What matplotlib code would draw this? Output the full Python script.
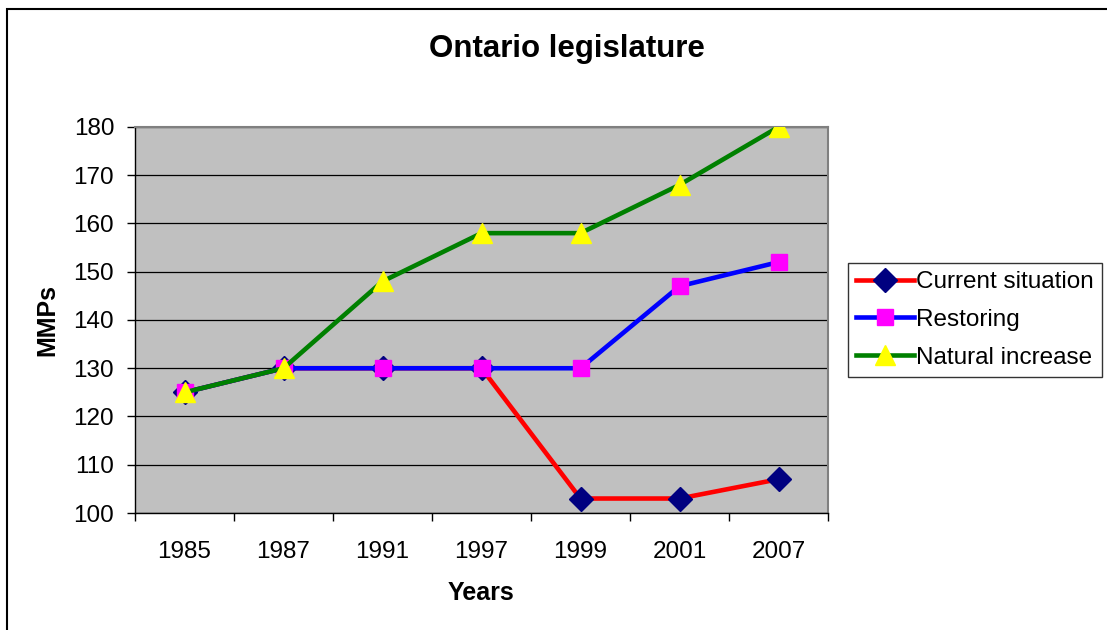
import matplotlib.pyplot as plt
from matplotlib.patches import Rectangle

plt.rcParams['font.family'] = ['Liberation Sans', 'DejaVu Sans']

years = ['1985', '1987', '1991', '1997', '1999', '2001', '2007']
current = [125, 130, 130, 130, 103, 103, 107]
restoring = [125, 130, 130, 130, 130, 147, 152]
natural = [125, 130, 148, 158, 158, 168, 180]

W, H = 1107, 630
fig = plt.figure(figsize=(W / 100, H / 100), dpi=100)
ax = fig.add_axes([135 / W, 1 - 513 / H, (828 - 135) / W, (513 - 127) / H])
ax.set_facecolor('#C0C0C0')

# outer chart border (top and left visible)
fig.patches.append(Rectangle((7 / W, -0.05), 1.2, 1 - 9 / H + 0.05, transform=fig.transFigure,
                             fill=False, edgecolor='black', linewidth=1.5))

x = list(range(len(years)))
ax.plot(x, current, color='#FF0000', lw=3.3, marker='D', ms=12,
        mfc='#000080', mec='#000080', label='Current situation', zorder=3)
ax.plot(x, restoring, color='#0000FF', lw=3.3, marker='s', ms=12,
        mfc='#FF00FF', mec='#FF00FF', label='Restoring', zorder=4)
ax.plot(x, natural, color='#008000', lw=3.3, marker='^', ms=14.5,
        mfc='#FFFF00', mec='#FFFF00', label='Natural increase', zorder=5)

ax.set_xlim(-0.5, len(years) - 0.5)
ax.set_ylim(100, 180)
ax.set_yticks(range(100, 181, 10))
ax.yaxis.grid(True, color='black', lw=0.9)
ax.set_axisbelow(True)

ax.set_xticks([i + 0.5 for i in range(-1, len(years))])
ax.set_xticklabels([])
ax.set_xticks(x, minor=True)
ax.set_xticklabels(years, minor=True, fontsize=17.5)
ax.tick_params(axis='x', which='major', direction='out', length=6, width=1, color='black')
ax.tick_params(axis='x', which='minor', length=0, pad=20)
ax.tick_params(axis='y', direction='out', length=6, width=1, labelsize=17.5, pad=9)

for s in ['top', 'right']:
    ax.spines[s].set_color('#808080')
    ax.spines[s].set_linewidth(1.5)
for s in ['left', 'bottom']:
    ax.spines[s].set_color('black')
    ax.spines[s].set_linewidth(1)

fig.suptitle('Ontario legislature', x=567 / W, y=1 - 49 / H, va='center',
             fontsize=22.5, fontweight='bold')
ax.set_xlabel('Years', fontsize=18, fontweight='bold', va='center')
ax.xaxis.set_label_coords(0.5, -(593 - 513) / 386)
ax.set_ylabel('MMPs', fontsize=18, fontweight='bold', va='center')
ax.yaxis.set_label_coords(-(135 - 47) / 693, 0.5)

leg = ax.legend(loc='upper left', bbox_to_anchor=(848 / W, 1 - 263 / H), bbox_transform=fig.transFigure,
                borderaxespad=0, fontsize=17.5, frameon=True, fancybox=False, handlelength=2.4,
                handletextpad=0.08, labelspacing=0.65, borderpad=0.33, edgecolor='black')
leg.get_frame().set_linewidth(1)

fig.savefig('out.png', dpi=100)
